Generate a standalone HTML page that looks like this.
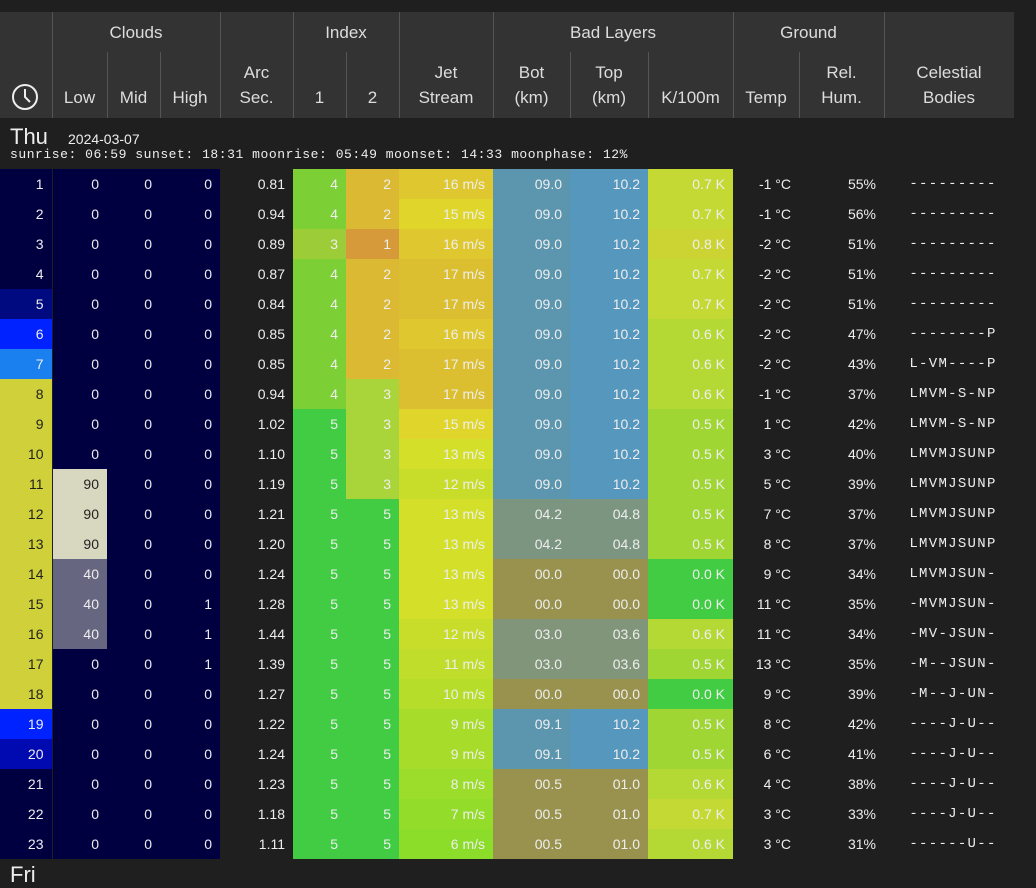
<!DOCTYPE html>
<html><head><meta charset="utf-8"><style>
body{margin:0;background:#1f1f1f;width:1036px;height:873px;overflow:hidden;font-family:"Liberation Sans",sans-serif;color:#eee;position:relative}
.hd{position:absolute;top:12px;left:0;width:1014px;height:106px;background:#333}
.v{position:absolute;width:1px;background:#555}
.lb{position:absolute;color:#ddd;font-size:17px;text-align:center;line-height:25px}
table{position:absolute;left:0;top:169px;border-collapse:collapse;table-layout:fixed;width:1014px}
td{height:30px;padding:0 8px 0 0;text-align:right;font-size:14px;white-space:nowrap;overflow:hidden}
td.h{border-right:1px solid #1f1f1f}
td.c{text-align:center;padding:0 0 0 8px;font-family:"Liberation Mono",monospace;font-size:14px;letter-spacing:1.3px}
.n{background:#000040}.d{background:#1f1f1f}
.y{background:#d0d03a;color:#222}
.a4{background:#7ccf35}.a3{background:#9ccd38}.a5{background:#41cc44}
.b2{background:#dcb932}.b1{background:#d69a3a}.b3{background:#a9d43a}
.bl1{background:#5b96ae}.bl2{background:#5597bd}.gr{background:#7c9580}.ol{background:#99924f}.gg{background:#80957a}
.k7{background:#c5d934}.k8{background:#ccd434}.k6{background:#b4d834}.k5{background:#a0d634}.k0{background:#41cc44}
</style></head><body>
<div class="hd"></div>
<div class="v" style="left:52px;top:12px;height:106px"></div>
<div class="v" style="left:220px;top:12px;height:106px"></div>
<div class="v" style="left:293px;top:12px;height:106px"></div>
<div class="v" style="left:399px;top:12px;height:106px"></div>
<div class="v" style="left:493px;top:12px;height:106px"></div>
<div class="v" style="left:733px;top:12px;height:106px"></div>
<div class="v" style="left:884px;top:12px;height:106px"></div>
<div class="v" style="left:107px;top:52px;height:66px"></div>
<div class="v" style="left:160px;top:52px;height:66px"></div>
<div class="v" style="left:346px;top:52px;height:66px"></div>
<div class="v" style="left:570px;top:52px;height:66px"></div>
<div class="v" style="left:648px;top:52px;height:66px"></div>
<div class="v" style="left:799px;top:52px;height:66px"></div>
<div class="lb" style="left:52px;width:168px;top:20px">Clouds</div>
<div class="lb" style="left:293px;width:106px;top:20px">Index</div>
<div class="lb" style="left:493px;width:240px;top:20px">Bad Layers</div>
<div class="lb" style="left:733px;width:151px;top:20px">Ground</div>
<svg style="position:absolute;left:11px;top:83px" width="28" height="28"><circle cx="14" cy="14" r="12" fill="none" stroke="#eee" stroke-width="2"/><path d="M14 6V14L19 19" fill="none" stroke="#eee" stroke-width="2"/></svg>
<div class="lb" style="left:52px;width:55px;top:85px">Low</div>
<div class="lb" style="left:107px;width:53px;top:85px">Mid</div>
<div class="lb" style="left:160px;width:60px;top:85px">High</div>
<div class="lb" style="left:220px;width:73px;top:60px">Arc<br>Sec.</div>
<div class="lb" style="left:293px;width:53px;top:85px">1</div>
<div class="lb" style="left:346px;width:53px;top:85px">2</div>
<div class="lb" style="left:399px;width:94px;top:60px">Jet<br>Stream</div>
<div class="lb" style="left:493px;width:77px;top:60px">Bot<br>(km)</div>
<div class="lb" style="left:570px;width:78px;top:60px">Top<br>(km)</div>
<div class="lb" style="left:648px;width:85px;top:85px">K/100m</div>
<div class="lb" style="left:733px;width:66px;top:85px">Temp</div>
<div class="lb" style="left:799px;width:85px;top:60px">Rel.<br>Hum.</div>
<div class="lb" style="left:884px;width:130px;top:60px">Celestial<br>Bodies</div>
<div style="position:absolute;left:10px;top:124px;font-size:22px;color:#eee">Thu</div>
<div style="position:absolute;left:68px;top:131px;font-size:14px;color:#eee">2024-03-07</div>
<div style="position:absolute;left:10px;top:147px;font-size:13px;letter-spacing:0.55px;font-family:'Liberation Mono',monospace;color:#eee">sunrise: 06:59 sunset: 18:31 moonrise: 05:49 moonset: 14:33 moonphase: 12%</div>
<table>
<colgroup><col style="width:52px"><col style="width:55px"><col style="width:53px"><col style="width:60px"><col style="width:73px"><col style="width:53px"><col style="width:53px"><col style="width:94px"><col style="width:77px"><col style="width:78px"><col style="width:85px"><col style="width:66px"><col style="width:85px"><col style="width:130px"></colgroup>
<tr><td class="h n">1</td><td class="n">0</td><td class="n">0</td><td class="n">0</td><td class="d">0.81</td><td class="a4">4</td><td class="b2">2</td><td style="background:#dfc72f">16 m/s</td><td class="bl1">09.0</td><td class="bl2">10.2</td><td class="k7">0.7 K</td><td class="d">-1 °C</td><td class="d">55%</td><td class="c d">---------</td></tr>
<tr><td class="h n">2</td><td class="n">0</td><td class="n">0</td><td class="n">0</td><td class="d">0.94</td><td class="a4">4</td><td class="b2">2</td><td style="background:#e0d52b">15 m/s</td><td class="bl1">09.0</td><td class="bl2">10.2</td><td class="k7">0.7 K</td><td class="d">-1 °C</td><td class="d">56%</td><td class="c d">---------</td></tr>
<tr><td class="h n">3</td><td class="n">0</td><td class="n">0</td><td class="n">0</td><td class="d">0.89</td><td class="a3">3</td><td class="b1">1</td><td style="background:#dfc72f">16 m/s</td><td class="bl1">09.0</td><td class="bl2">10.2</td><td class="k8">0.8 K</td><td class="d">-2 °C</td><td class="d">51%</td><td class="c d">---------</td></tr>
<tr><td class="h n">4</td><td class="n">0</td><td class="n">0</td><td class="n">0</td><td class="d">0.87</td><td class="a4">4</td><td class="b2">2</td><td style="background:#dcbf30">17 m/s</td><td class="bl1">09.0</td><td class="bl2">10.2</td><td class="k7">0.7 K</td><td class="d">-2 °C</td><td class="d">51%</td><td class="c d">---------</td></tr>
<tr><td class="h" style="background:#000a80">5</td><td class="n">0</td><td class="n">0</td><td class="n">0</td><td class="d">0.84</td><td class="a4">4</td><td class="b2">2</td><td style="background:#dcbf30">17 m/s</td><td class="bl1">09.0</td><td class="bl2">10.2</td><td class="k7">0.7 K</td><td class="d">-2 °C</td><td class="d">51%</td><td class="c d">---------</td></tr>
<tr><td class="h" style="background:#0022ff">6</td><td class="n">0</td><td class="n">0</td><td class="n">0</td><td class="d">0.85</td><td class="a4">4</td><td class="b2">2</td><td style="background:#dfc72f">16 m/s</td><td class="bl1">09.0</td><td class="bl2">10.2</td><td class="k6">0.6 K</td><td class="d">-2 °C</td><td class="d">47%</td><td class="c d">--------P</td></tr>
<tr><td class="h" style="background:#1a7fef">7</td><td class="n">0</td><td class="n">0</td><td class="n">0</td><td class="d">0.85</td><td class="a4">4</td><td class="b2">2</td><td style="background:#dcbf30">17 m/s</td><td class="bl1">09.0</td><td class="bl2">10.2</td><td class="k6">0.6 K</td><td class="d">-2 °C</td><td class="d">43%</td><td class="c d">L-VM----P</td></tr>
<tr><td class="h y">8</td><td class="n">0</td><td class="n">0</td><td class="n">0</td><td class="d">0.94</td><td class="a4">4</td><td class="b3">3</td><td style="background:#dcbf30">17 m/s</td><td class="bl1">09.0</td><td class="bl2">10.2</td><td class="k6">0.6 K</td><td class="d">-1 °C</td><td class="d">37%</td><td class="c d">LMVM-S-NP</td></tr>
<tr><td class="h y">9</td><td class="n">0</td><td class="n">0</td><td class="n">0</td><td class="d">1.02</td><td class="a5">5</td><td class="b3">3</td><td style="background:#e0d52b">15 m/s</td><td class="bl1">09.0</td><td class="bl2">10.2</td><td class="k5">0.5 K</td><td class="d">1 °C</td><td class="d">42%</td><td class="c d">LMVM-S-NP</td></tr>
<tr><td class="h y">10</td><td class="n">0</td><td class="n">0</td><td class="n">0</td><td class="d">1.10</td><td class="a5">5</td><td class="b3">3</td><td style="background:#d3df28">13 m/s</td><td class="bl1">09.0</td><td class="bl2">10.2</td><td class="k5">0.5 K</td><td class="d">3 °C</td><td class="d">40%</td><td class="c d">LMVMJSUNP</td></tr>
<tr><td class="h y">11</td><td style="background:#d8d8c0;color:#222">90</td><td class="n">0</td><td class="n">0</td><td class="d">1.19</td><td class="a5">5</td><td class="b3">3</td><td style="background:#c8dd2a">12 m/s</td><td class="bl1">09.0</td><td class="bl2">10.2</td><td class="k5">0.5 K</td><td class="d">5 °C</td><td class="d">39%</td><td class="c d">LMVMJSUNP</td></tr>
<tr><td class="h y">12</td><td style="background:#d8d8c0;color:#222">90</td><td class="n">0</td><td class="n">0</td><td class="d">1.21</td><td class="a5">5</td><td class="a5">5</td><td style="background:#d3df28">13 m/s</td><td class="gr">04.2</td><td class="gr">04.8</td><td class="k5">0.5 K</td><td class="d">7 °C</td><td class="d">37%</td><td class="c d">LMVMJSUNP</td></tr>
<tr><td class="h y">13</td><td style="background:#d8d8c0;color:#222">90</td><td class="n">0</td><td class="n">0</td><td class="d">1.20</td><td class="a5">5</td><td class="a5">5</td><td style="background:#d3df28">13 m/s</td><td class="gr">04.2</td><td class="gr">04.8</td><td class="k5">0.5 K</td><td class="d">8 °C</td><td class="d">37%</td><td class="c d">LMVMJSUNP</td></tr>
<tr><td class="h y">14</td><td style="background:#666680">40</td><td class="n">0</td><td class="n">0</td><td class="d">1.24</td><td class="a5">5</td><td class="a5">5</td><td style="background:#d3df28">13 m/s</td><td class="ol">00.0</td><td class="ol">00.0</td><td class="k0">0.0 K</td><td class="d">9 °C</td><td class="d">34%</td><td class="c d">LMVMJSUN-</td></tr>
<tr><td class="h y">15</td><td style="background:#666680">40</td><td class="n">0</td><td class="n">1</td><td class="d">1.28</td><td class="a5">5</td><td class="a5">5</td><td style="background:#d3df28">13 m/s</td><td class="ol">00.0</td><td class="ol">00.0</td><td class="k0">0.0 K</td><td class="d">11 °C</td><td class="d">35%</td><td class="c d">-MVMJSUN-</td></tr>
<tr><td class="h y">16</td><td style="background:#666680">40</td><td class="n">0</td><td class="n">1</td><td class="d">1.44</td><td class="a5">5</td><td class="a5">5</td><td style="background:#c8dd2a">12 m/s</td><td class="gg">03.0</td><td class="gg">03.6</td><td class="k6">0.6 K</td><td class="d">11 °C</td><td class="d">34%</td><td class="c d">-MV-JSUN-</td></tr>
<tr><td class="h y">17</td><td class="n">0</td><td class="n">0</td><td class="n">1</td><td class="d">1.39</td><td class="a5">5</td><td class="a5">5</td><td style="background:#bfdd2a">11 m/s</td><td class="gg">03.0</td><td class="gg">03.6</td><td class="k5">0.5 K</td><td class="d">13 °C</td><td class="d">35%</td><td class="c d">-M--JSUN-</td></tr>
<tr><td class="h y">18</td><td class="n">0</td><td class="n">0</td><td class="n">0</td><td class="d">1.27</td><td class="a5">5</td><td class="a5">5</td><td style="background:#b5dd2a">10 m/s</td><td class="ol">00.0</td><td class="ol">00.0</td><td class="k0">0.0 K</td><td class="d">9 °C</td><td class="d">39%</td><td class="c d">-M--J-UN-</td></tr>
<tr><td class="h" style="background:#0022ff">19</td><td class="n">0</td><td class="n">0</td><td class="n">0</td><td class="d">1.22</td><td class="a5">5</td><td class="a5">5</td><td style="background:#a8dc2a">9 m/s</td><td class="bl1">09.1</td><td class="bl2">10.2</td><td class="k5">0.5 K</td><td class="d">8 °C</td><td class="d">42%</td><td class="c d">----J-U--</td></tr>
<tr><td class="h" style="background:#000ab0">20</td><td class="n">0</td><td class="n">0</td><td class="n">0</td><td class="d">1.24</td><td class="a5">5</td><td class="a5">5</td><td style="background:#a8dc2a">9 m/s</td><td class="bl1">09.1</td><td class="bl2">10.2</td><td class="k5">0.5 K</td><td class="d">6 °C</td><td class="d">41%</td><td class="c d">----J-U--</td></tr>
<tr><td class="h n">21</td><td class="n">0</td><td class="n">0</td><td class="n">0</td><td class="d">1.23</td><td class="a5">5</td><td class="a5">5</td><td style="background:#9cdc2a">8 m/s</td><td class="ol">00.5</td><td class="ol">01.0</td><td class="k6">0.6 K</td><td class="d">4 °C</td><td class="d">38%</td><td class="c d">----J-U--</td></tr>
<tr><td class="h n">22</td><td class="n">0</td><td class="n">0</td><td class="n">0</td><td class="d">1.18</td><td class="a5">5</td><td class="a5">5</td><td style="background:#94dc2a">7 m/s</td><td class="ol">00.5</td><td class="ol">01.0</td><td class="k7">0.7 K</td><td class="d">3 °C</td><td class="d">33%</td><td class="c d">----J-U--</td></tr>
<tr><td class="h n">23</td><td class="n">0</td><td class="n">0</td><td class="n">0</td><td class="d">1.11</td><td class="a5">5</td><td class="a5">5</td><td style="background:#8cdc2a">6 m/s</td><td class="ol">00.5</td><td class="ol">01.0</td><td class="k6">0.6 K</td><td class="d">3 °C</td><td class="d">31%</td><td class="c d">------U--</td></tr>
</table>
<div style="position:absolute;left:10px;top:862px;font-size:22px;color:#eee">Fri</div>
</body></html>
